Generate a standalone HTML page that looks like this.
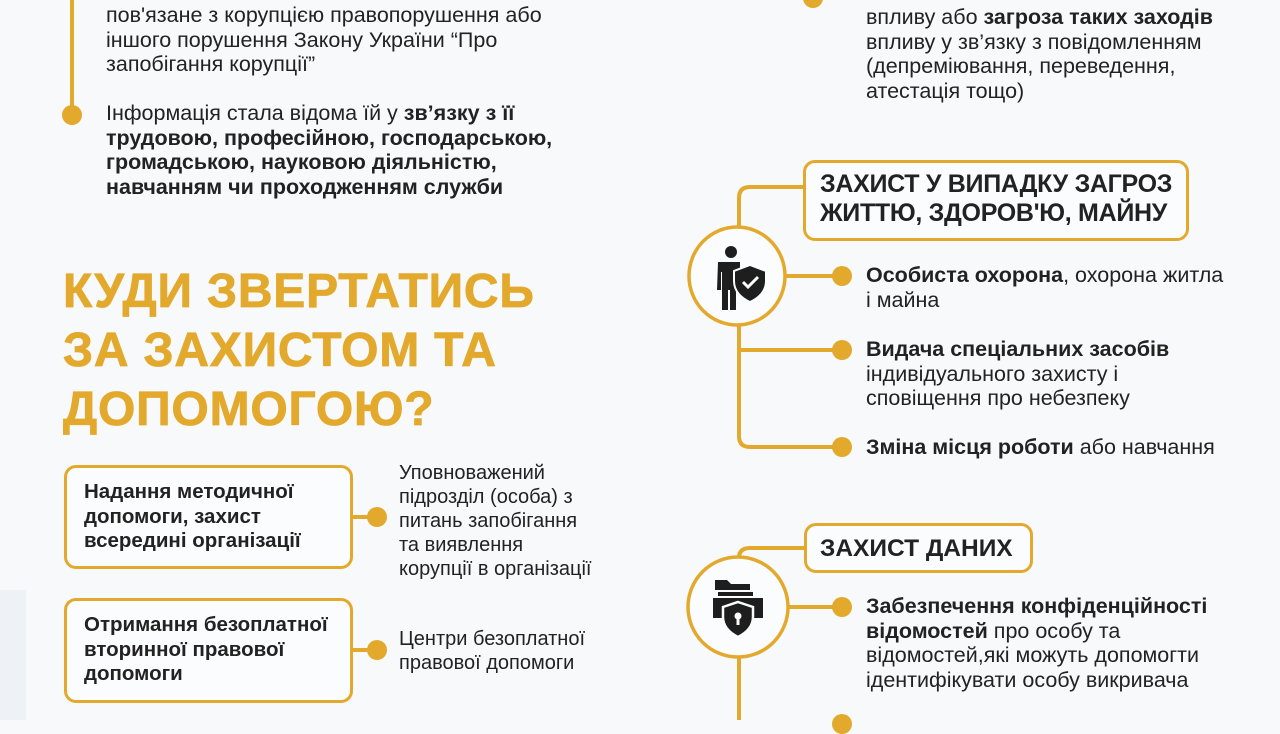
<!DOCTYPE html>
<html><head><meta charset="utf-8">
<style>
body{margin:0;width:1280px;height:720px;overflow:hidden;background:#f7f9fb;font-family:"Liberation Sans",sans-serif;color:#222;position:relative}
.a{position:absolute;white-space:nowrap}
.t{font-size:21.5px;line-height:24.5px;letter-spacing:0}
.t b{font-weight:bold}
.box{position:absolute;border:3px solid #e3a92c;border-radius:12px;box-sizing:border-box;background:#fbfcfd}
.dot{position:absolute;width:20px;height:20px;border-radius:50%;background:#e3a92c}
.ln{position:absolute;background:#e3a92c}
h1{position:absolute;margin:0;left:63px;top:262px;font-size:48px;line-height:59px;color:#e3a92c;font-weight:bold;letter-spacing:0.8px;white-space:nowrap;-webkit-text-stroke:0.8px #e3a92c}
</style></head><body>
<div class="a" style="left:0;top:590px;width:26px;height:130px;background:#eef1f5"></div>

<div class="ln" style="left:70px;top:0;width:4px;height:115px"></div>
<div class="dot" style="left:62px;top:105px"></div>
<div class="a t" style="left:106px;top:3px">пов'язане з корупцією правопорушення або<br>іншого порушення Закону України “Про<br>запобігання корупції”</div>
<div class="a t" style="left:106px;top:101px">Інформація стала відома їй у <b>зв’язку з її<br>трудовою, професійною, господарською,<br>громадською, науковою діяльністю,<br>навчанням чи проходженням служби</b></div>

<h1>КУДИ ЗВЕРТАТИСЬ<br>ЗА ЗАХИСТОМ ТА<br>ДОПОМОГОЮ?</h1>

<div class="box" style="left:64px;top:465px;width:289px;height:104px"></div>
<div class="a t" style="left:84px;top:480px;font-weight:bold;font-size:20.5px">Надання методичної<br>допомоги, захист<br>всередині організації</div>
<div class="ln" style="left:352px;top:515px;width:25px;height:4px"></div>
<div class="dot" style="left:367px;top:507px"></div>
<div class="a t" style="left:399px;top:461px;font-size:20px;line-height:24px">Уповноважений<br>підрозділ (особа) з<br>питань запобігання<br>та виявлення<br>корупції в організації</div>

<div class="box" style="left:64px;top:598px;width:289px;height:105px"></div>
<div class="a t" style="left:84px;top:613px;font-weight:bold;font-size:20.5px">Отримання безоплатної<br>вторинної правової<br>допомоги</div>
<div class="ln" style="left:352px;top:648px;width:25px;height:4px"></div>
<div class="dot" style="left:367px;top:640px"></div>
<div class="a t" style="left:399px;top:627px;font-size:20px;line-height:24px">Центри безоплатної<br>правової допомоги</div>

<div class="dot" style="left:803px;top:-12px"></div>
<div class="a t" style="left:866px;top:5px">впливу або <b>загроза таких заходів</b><br>впливу у зв’язку з повідомленням<br>(депреміювання, переведення,<br>атестація тощо)</div>

<svg class="a" style="left:0;top:0" width="1280" height="720">
<g fill="none" stroke="#e3a92c" stroke-width="4">
<path d="M739 228 V198 Q739 187 750 187 H803"/>
<path d="M739 324 V436 Q739 447 750 447 H842"/>
<path d="M739 350 H842"/>
<path d="M786 276 H842"/>
<ellipse cx="737" cy="276" rx="48" ry="49" fill="#fbfcfd" stroke-width="3.5"/>
<path d="M739 558 V558 Q739 548 750 548 H804"/>
<path d="M739 656 V720"/>
<path d="M788 607 H842"/>
<ellipse cx="738" cy="607" rx="50" ry="50" fill="#fbfcfd" stroke-width="3.5"/>
</g>
<g fill="#1e1e1e">
<circle cx="731" cy="252" r="6"/>
<path d="M718 262 h22 v10 h-4 v38 h-6 v-20 h-2 v20 h-6 v-38 h-1 v18 h-4 z"/>
<path d="M750 265 l16 6 v10 c0 10 -7 17 -16 21 c-9 -4 -16 -11 -16 -21 v-10 z" stroke="#fbfcfd" stroke-width="2"/>
<path d="M743 282 l5 5 l10 -10" fill="none" stroke="#fbfcfd" stroke-width="3"/>
<path d="M715 580 h12 l4 4 h19 v6 h-35 z"/>
<rect x="718" y="592" width="35" height="4"/>
<path d="M713 598 h50 v20 h-50 z"/>
<path d="M738 602 l15 5 v10 c0 10 -7 16 -15 20 c-8 -4 -15 -10 -15 -20 v-10 z" stroke="#fbfcfd" stroke-width="2.5"/>
<circle cx="738" cy="616" r="3.5" fill="#fbfcfd"/>
<rect x="736.5" y="617" width="3" height="8" fill="#fbfcfd"/>
</g>
</svg>

<div class="box" style="left:803px;top:160px;width:386px;height:81px"></div>
<div class="a" style="left:820px;top:170px;font-size:25px;line-height:29px;font-weight:bold;letter-spacing:-0.3px">ЗАХИСТ У ВИПАДКУ ЗАГРОЗ<br>ЖИТТЮ, ЗДОРОВ'Ю, МАЙНУ</div>

<div class="dot" style="left:832px;top:266px"></div>
<div class="a t" style="left:866px;top:263px"><b>Особиста охорона</b>, охорона житла<br>і майна</div>
<div class="dot" style="left:832px;top:340px"></div>
<div class="a t" style="left:866px;top:337px"><b>Видача спеціальних засобів</b><br>індивідуального захисту і<br>сповіщення про небезпеку</div>
<div class="dot" style="left:832px;top:437px"></div>
<div class="a t" style="left:866px;top:435px"><b>Зміна місця роботи</b> або навчання</div>

<div class="box" style="left:804px;top:523px;width:229px;height:50px"></div>
<div class="a" style="left:820px;top:535px;font-size:24.5px;line-height:28px;font-weight:bold">ЗАХИСТ ДАНИХ</div>
<div class="dot" style="left:832px;top:597px"></div>
<div class="a t" style="left:866px;top:594px"><b>Забезпечення конфіденційності<br>відомостей</b> про особу та<br>відомостей,які можуть допомогти<br>ідентифікувати особу викривача</div>
<div class="dot" style="left:832px;top:714px"></div>
</body></html>
